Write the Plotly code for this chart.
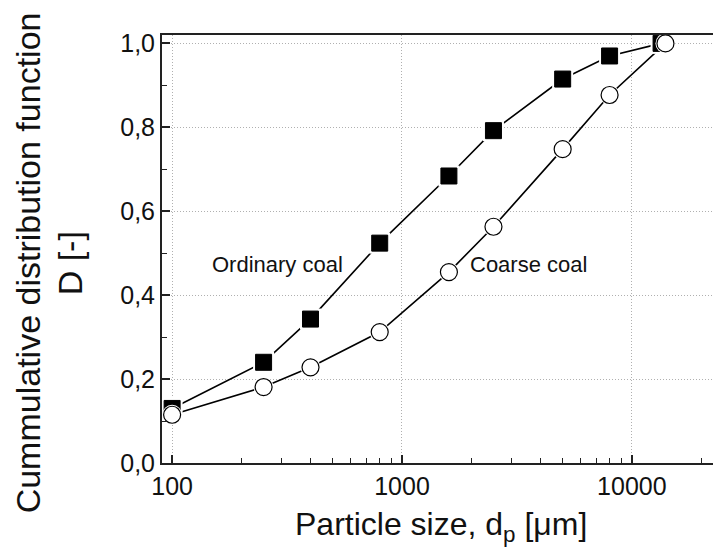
import plotly.graph_objects as go

# Data
size_ordinary = [100, 250, 400, 800, 1600, 2500, 5000, 8000, 13400]
ordinary_coal = [0.13, 0.24, 0.343, 0.524, 0.684, 0.792, 0.915, 0.970, 1.0]
size_coarse = [100, 250, 400, 800, 1600, 2500, 5000, 8000, 14000]
coarse_coal = [0.115, 0.181, 0.228, 0.312, 0.455, 0.563, 0.748, 0.877, 1.0]

x_tick_vals = [100, 1000, 10000]
x_tick_text = ["100", "1000", "10000"]
y_tick_vals = [0.0, 0.2, 0.4, 0.6, 0.8, 1.0]
y_tick_text = ["0,0", "0,2", "0,4", "0,6", "0,8", "1,0"]

x_title = "Particle size, d<sub>p</sub> [μm]"
y_title_lines = ["Cummulative distribution function", "D [-]"]
series_labels = ["Ordinary coal", "Coarse coal"]

FONT = "Liberation Sans, Arial, sans-serif"
TXT = "#111111"
GRID_DASH = "1px,2px"

fig = go.Figure()
# connecting lines
fig.add_trace(go.Scatter(x=size_ordinary, y=ordinary_coal, mode="lines", name=series_labels[0],
                         line=dict(color="black", width=1.6), hoverinfo="skip"))
fig.add_trace(go.Scatter(x=size_coarse, y=coarse_coal, mode="lines", name=series_labels[1],
                         line=dict(color="black", width=1.6), hoverinfo="skip"))
# white halo + marker for squares
fig.add_trace(go.Scatter(x=size_ordinary, y=ordinary_coal, mode="markers", hoverinfo="skip",
                         marker=dict(symbol="square", size=21, color="white", line=dict(width=0))))
fig.add_trace(go.Scatter(x=size_ordinary, y=ordinary_coal, mode="markers", name=series_labels[0],
                         marker=dict(symbol="square", size=16, color="black",
                                     line=dict(color="black", width=1))))
# white halo + marker for circles
fig.add_trace(go.Scatter(x=size_coarse, y=coarse_coal, mode="markers", hoverinfo="skip",
                         marker=dict(symbol="circle", size=20, color="white", line=dict(width=0))))
fig.add_trace(go.Scatter(x=size_coarse, y=coarse_coal, mode="markers", name=series_labels[1],
                         marker=dict(symbol="circle", size=17, color="white",
                                     line=dict(color="black", width=1.2))))

# in-plot labels (log axis: x given as log10 of position)
fig.add_annotation(x=2.46, y=0.472, xref="x", yref="y", text=series_labels[0],
                   showarrow=False, font=dict(family=FONT, size=22, color=TXT))
fig.add_annotation(x=3.551, y=0.472, xref="x", yref="y", text=series_labels[1],
                   showarrow=False, font=dict(family=FONT, size=22, color=TXT))

# axis titles
fig.add_annotation(x=-0.2428, y=0.467, xref="paper", yref="paper", text=y_title_lines[0],
                   textangle=-90, showarrow=False, xanchor="center", yanchor="middle",
                   font=dict(family=FONT, size=34, color=TXT))
fig.add_annotation(x=-0.1666, y=0.467, xref="paper", yref="paper", text=y_title_lines[1],
                   textangle=-90, showarrow=False, xanchor="center", yanchor="middle",
                   font=dict(family=FONT, size=34, color=TXT))
fig.add_annotation(x=0.5064, y=-0.0958, xref="paper", yref="paper", text=x_title,
                   showarrow=False, xanchor="center", yanchor="top",
                   font=dict(family=FONT, size=32, color=TXT))

fig.update_layout(
    width=713, height=559,
    margin=dict(l=162, r=0, t=35, b=96),
    paper_bgcolor="white", plot_bgcolor="white",
    showlegend=False,
    font=dict(family=FONT, color=TXT),
)
fig.update_xaxes(
    type="log", range=[1.956, 4.353],
    tickmode="array", tickvals=x_tick_vals, ticktext=x_tick_text,
    ticks="inside", ticklen=8, tickwidth=1.5, tickcolor="#222",
    showline=True, linecolor="#222", linewidth=2, mirror=True,
    showgrid=True, gridcolor="#b0b0b0", griddash=GRID_DASH, gridwidth=1,
    zeroline=False,
    tickfont=dict(family=FONT, size=25, color=TXT),
    minor=dict(ticks="inside", ticklen=5, tickwidth=1, tickcolor="#222", dtick="D1", showgrid=False),
)
fig.update_yaxes(
    range=[0, 1.02],
    tickmode="array", tickvals=y_tick_vals, ticktext=y_tick_text,
    ticks="inside", ticklen=8, tickwidth=1.5, tickcolor="#222",
    showline=True, linecolor="#222", linewidth=2, mirror=False,
    showgrid=True, gridcolor="#b0b0b0", griddash=GRID_DASH, gridwidth=1,
    zeroline=False,
    tickfont=dict(family=FONT, size=25, color=TXT),
    minor=dict(ticks="inside", ticklen=5, tickwidth=1, tickcolor="#222", dtick=0.1, showgrid=False),
)

fig.write_html(
    "out.html",
    config={"displayModeBar": False},
    post_script="document.body.style.margin='0px';document.body.style.overflow='hidden';",
)
